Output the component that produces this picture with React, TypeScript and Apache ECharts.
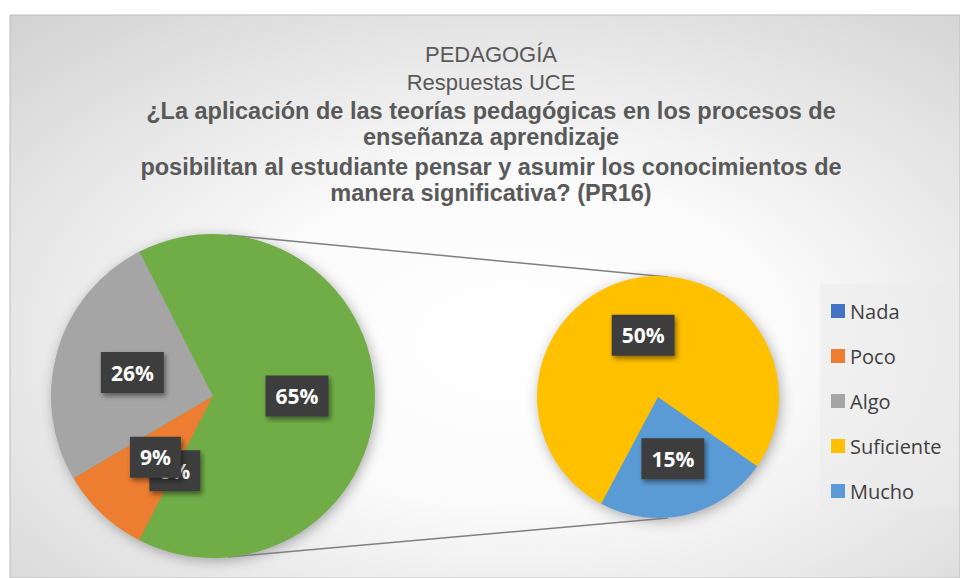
import React, { useEffect, useRef } from "react";
import * as echarts from "echarts";

const primaryNames = ["Nada", "Poco", "Algo", "Otro"];
const primaryValues = [0, 9, 26, 65];
const secondaryNames = ["Suficiente", "Mucho"];
const secondaryValues = [50, 15];
const legendNames = ["Nada", "Poco", "Algo", "Suficiente", "Mucho"];
const colorMap: Record<string, string> = {
  Nada: "#4472C4",
  Poco: "#ED7D31",
  Algo: "#A5A5A5",
  Otro: "#70AD47",
  Suficiente: "#FFC000",
  Mucho: "#5B9BD5",
};
const titleLines1 = "PEDAGOGÍA\nRespuestas UCE";
const titleLines2 = "¿La aplicación de las teorías pedagógicas en los procesos de\nenseñanza aprendizaje";
const titleLines3 = "posibilitan al estudiante pensar y asumir los conocimientos de\nmanera significativa? (PR16)";

const L = { cx: 213, cy: 396, r: 162 };
const R = { cx: 658, cy: 397, r: 121 };

export default function App() {
  const ref = useRef<HTMLDivElement>(null);
  useEffect(() => {
    if (!ref.current) return;
    const chart = echarts.init(ref.current, null, { renderer: "svg" });
    const labelStyle = {
      show: true,
      position: "inside",
      formatter: "{c}%",
      color: "#ffffff",
      fontSize: 21,
      fontWeight: "bold",
      fontFamily: "Open Sans",
      lineHeight: 21,
      backgroundColor: "#3d3d3d",
      padding: [10, 10],
      shadowColor: "rgba(0,0,0,0.45)",
      shadowBlur: 5,
      shadowOffsetX: 2,
      shadowOffsetY: 3,
    };
    const option: any = {
      animation: false,
      title: [
        {
          text: titleLines1,
          left: 486,
          top: 35,
          textAlign: "center",
          textStyle: { fontFamily: "Liberation Sans", fontSize: 22, fontWeight: "normal", color: "#595959", lineHeight: 28 },
        },
        {
          text: titleLines2,
          left: 486,
          top: 93,
          textAlign: "center",
          textStyle: { fontFamily: "Liberation Sans", fontSize: 23.5, fontWeight: "bold", color: "#595959", lineHeight: 26 },
        },
        {
          text: titleLines3,
          left: 486,
          top: 149,
          textAlign: "center",
          textStyle: { fontFamily: "Liberation Sans", fontSize: 23.5, fontWeight: "bold", color: "#595959", lineHeight: 26 },
        },
      ],
      legend: {
        data: legendNames,
        orient: "vertical",
        left: 826,
        top: 296,
        icon: "rect",
        itemWidth: 14,
        itemHeight: 14,
        itemGap: 25,
        selectedMode: false,
        textStyle: { fontFamily: "Open Sans", fontSize: 20, color: "#404040", lineHeight: 20 },
      },
      graphic: [
        {
          type: "rect",
          z: -10,
          silent: true,
          shape: { x: 10, y: 15, width: 950, height: 563 },
          style: {
            fill: {
              type: "radial",
              x: 0.53,
              y: 0.58,
              r: 0.95,
              colorStops: [
                { offset: 0, color: "#ffffff" },
                { offset: 0.3, color: "#fbfbfb" },
                { offset: 1, color: "#c4c4c4" },
              ],
            },
            stroke: "#bdbdbd",
            lineWidth: 1,
          },
        },
        {
          type: "rect",
          z: -5,
          silent: true,
          shape: { x: 820, y: 284, width: 138, height: 224 },
          style: { fill: "rgba(235,235,235,0.55)" },
        },
        {
          type: "circle",
          z: -4,
          silent: true,
          shape: { cx: L.cx, cy: L.cy, r: L.r - 1 },
          style: { fill: "#70AD47", shadowBlur: 14, shadowColor: "rgba(0,0,0,0.35)", shadowOffsetX: 2, shadowOffsetY: 3 },
        },
        {
          type: "circle",
          z: -4,
          silent: true,
          shape: { cx: R.cx, cy: R.cy, r: R.r - 1 },
          style: { fill: "#FFC000", shadowBlur: 14, shadowColor: "rgba(0,0,0,0.35)", shadowOffsetX: 2, shadowOffsetY: 3 },
        },
        {
          type: "line",
          z: -3,
          silent: true,
          shape: { x1: 228, y1: 235, x2: 668, y2: 277 },
          style: { stroke: "#7f7f7f", lineWidth: 1.5 },
        },
        {
          type: "line",
          z: -3,
          silent: true,
          shape: { x1: 228, y1: 557, x2: 668, y2: 518 },
          style: { stroke: "#7f7f7f", lineWidth: 1.5 },
        },
      ],
      series: [
        {
          type: "pie",
          center: [L.cx, L.cy],
          radius: L.r,
          startAngle: 243,
          clockwise: true,
          minAngle: 0.05,
          minShowLabelAngle: 0,
          avoidLabelOverlap: false,
          labelLayout: { hideOverlap: false },
          label: labelStyle,
          labelLine: { show: false },
          emphasis: { disabled: true },
          itemStyle: { borderWidth: 0 },
          data: primaryNames.map((n, i) => ({ name: n, value: primaryValues[i], itemStyle: { color: colorMap[n] } })),
        },
        {
          type: "pie",
          center: [R.cx, R.cy],
          radius: R.r,
          startAngle: 242,
          clockwise: true,
          avoidLabelOverlap: false,
          labelLayout: { hideOverlap: false },
          label: labelStyle,
          labelLine: { show: false },
          emphasis: { disabled: true },
          itemStyle: { borderWidth: 0 },
          data: secondaryNames.map((n, i) => ({ name: n, value: secondaryValues[i], itemStyle: { color: colorMap[n] } })),
        },
      ],
    };
    chart.setOption(option);
    return () => chart.dispose();
  }, []);
  return (
    <div
      ref={ref}
      style={{ position: "fixed", left: 0, top: 0, width: 960, height: 578, background: "#ffffff" }}
    />
  );
}
